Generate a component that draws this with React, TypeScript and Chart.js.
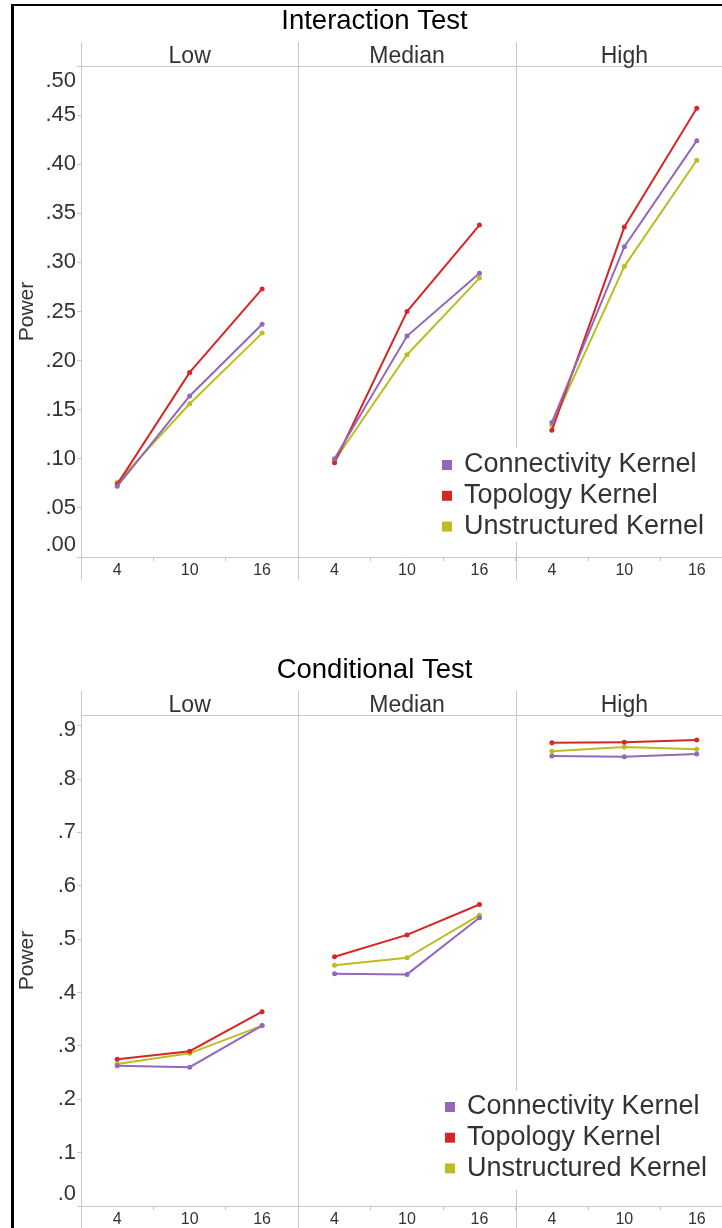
import React, { useEffect, useRef } from 'react';
import { Chart, registerables } from 'chart.js';

Chart.register(...registerables);

const FONT = '"Liberation Sans", Arial, Helvetica, sans-serif';
const GRID = '#c8c8c8';
const TEXT = '#333333';

const seriesNames = ['Connectivity Kernel', 'Topology Kernel', 'Unstructured Kernel'];
const seriesColors = ['#9467bd', '#d62728', '#bcbd22'];
const panelNames = ['Low', 'Median', 'High'];
const xLabels = ['4', '10', '16', '4', '10', '16', '4', '10', '16'];

// Interaction Test (Low 4,10,16 | Median 4,10,16 | High 4,10,16)
const interactionConnectivity = [0.072, 0.164, 0.237, 0.100, 0.225, 0.289, 0.137, 0.316, 0.424];
const interactionTopology = [0.074, 0.188, 0.273, 0.096, 0.250, 0.338, 0.129, 0.336, 0.457];
const interactionUnstructured = [0.076, 0.156, 0.228, 0.098, 0.206, 0.284, 0.134, 0.296, 0.404];

// Conditional Test
const conditionalConnectivity = [0.263, 0.260, 0.338, 0.435, 0.434, 0.540, 0.843, 0.842, 0.847];
const conditionalTopology = [0.275, 0.290, 0.364, 0.467, 0.508, 0.565, 0.868, 0.869, 0.873];
const conditionalUnstructured = [0.266, 0.286, 0.338, 0.451, 0.465, 0.545, 0.852, 0.860, 0.856];

const CANVAS_W = 750;
const CANVAS_H = 649;

function fmtTick(v: number, decimals: number) {
  return v.toFixed(decimals).replace(/^0/, '');
}

const facetPlugin = {
  id: 'facetDecor',
  beforeDatasetsDraw(chart: any, _args: any, opts: any) {
    const { ctx, chartArea } = chart;
    const xs = chart.scales.x;
    const ys = chart.scales.y;
    ctx.save();
    ctx.strokeStyle = GRID;
    ctx.lineWidth = 1;
    ctx.beginPath();
    const ty = Math.round(chartArea.top) + 0.5;
    ctx.moveTo(chartArea.left, ty);
    ctx.lineTo(chartArea.right, ty);
    [-0.5, 2.5, 5.5].forEach((v) => {
      const px = Math.round(xs.getPixelForValue(v)) + 0.5;
      ctx.moveTo(px, chartArea.top - 24);
      ctx.lineTo(px, chartArea.bottom + 23);
    });
    ctx.stroke();

    // facet headers
    ctx.fillStyle = TEXT;
    ctx.font = `23px ${FONT}`;
    ctx.textAlign = 'center';
    ctx.textBaseline = 'alphabetic';
    panelNames.forEach((n, i) => {
      ctx.fillText(n, xs.getPixelForValue(i * 3 + 1), chartArea.top - 3.5);
    });

    // y tick labels (kept inside the plot band)
    ctx.font = `22px ${FONT}`;
    ctx.textAlign = 'right';
    ctx.textBaseline = 'middle';
    ys.ticks.forEach((t: any) => {
      let py = ys.getPixelForValue(t.value);
      py = Math.min(Math.max(py, chartArea.top + 15), chartArea.bottom - 12);
      ctx.fillText(fmtTick(t.value, opts.decimals), ys.right - 5, py);
    });
    ctx.restore();
  },
  afterDraw(chart: any, _args: any, opts: any) {
    const { ctx } = chart;
    ctx.save();
    ctx.fillStyle = '#ffffff';
    ctx.fillRect(opts.boxX, opts.boxY, opts.boxW, opts.boxH);
    ctx.font = `27px ${FONT}`;
    ctx.textAlign = 'left';
    ctx.textBaseline = 'middle';
    chart.data.datasets.forEach((ds: any, i: number) => {
      const cy = opts.rowY + i * opts.rowGap;
      ctx.fillStyle = ds.borderColor;
      ctx.fillRect(opts.squareX, cy - 5, 10, 10);
      ctx.fillStyle = TEXT;
      ctx.fillText(ds.label, opts.textX, cy);
    });
    ctx.restore();
  },
};

function makeDataset(label: string, data: number[], color: string) {
  return {
    label,
    data,
    borderColor: color,
    backgroundColor: color,
    borderWidth: 2,
    pointRadius: 2.5,
    pointBorderWidth: 0,
    pointBackgroundColor: color,
    pointHoverRadius: 2.5,
    tension: 0,
    fill: false,
    segment: {
      borderColor: (c: any) => (c.p0DataIndex % 3 === 2 ? 'rgba(0,0,0,0)' : color),
    },
  };
}

function makeConfig(
  title: string,
  series: number[][],
  yMax: number,
  yStep: number,
  decimals: number,
  legend: any
): any {
  return {
    type: 'line',
    data: {
      labels: xLabels,
      datasets: series.map((d, i) => makeDataset(seriesNames[i], d, seriesColors[i])),
    },
    options: {
      responsive: false,
      animation: false,
      events: [],
      layout: { padding: { left: 16, right: 17, top: 0, bottom: 0 } },
      plugins: {
        legend: { display: false },
        tooltip: { enabled: false },
        title: {
          display: true,
          text: title,
          color: '#000000',
          font: { family: FONT, size: 27.5, weight: 'normal', lineHeight: 1.2 },
          padding: { top: 4.6, bottom: 28.4 },
        },
        facetDecor: { decimals, ...legend },
      },
      scales: {
        x: {
          type: 'category',
          offset: true,
          grid: {
            offset: true,
            drawOnChartArea: false,
            drawTicks: true,
            tickLength: 4,
            tickColor: GRID,
            color: GRID,
          },
          border: { display: true, color: GRID, width: 1 },
          ticks: {
            autoSkip: false,
            maxRotation: 0,
            minRotation: 0,
            padding: 0,
            color: TEXT,
            font: { family: FONT, size: 16 },
          },
          afterFit: (s: any) => {
            s.height = CANVAS_H - 557;
          },
        },
        y: {
          type: 'linear',
          min: 0,
          max: yMax,
          bounds: 'data',
          grid: {
            drawOnChartArea: false,
            drawTicks: true,
            tickLength: 4,
            tickColor: GRID,
            color: GRID,
          },
          border: { display: true, color: GRID, width: 1 },
          ticks: {
            display: false,
            stepSize: yStep,
            includeBounds: false,
          },
          title: {
            display: true,
            text: 'Power',
            color: TEXT,
            font: { family: FONT, size: 21, lineHeight: 1.0 },
            padding: { top: 0.5, bottom: 0 },
          },
          afterFit: (s: any) => {
            s.width = 65;
          },
        },
      },
    },
    plugins: [facetPlugin],
  };
}

export default function App() {
  const topRef = useRef<HTMLCanvasElement | null>(null);
  const bottomRef = useRef<HTMLCanvasElement | null>(null);

  useEffect(() => {
    const charts: Chart[] = [];
    if (topRef.current) {
      charts.push(
        new Chart(
          topRef.current,
          makeConfig(
            'Interaction Test',
            [interactionConnectivity, interactionTopology, interactionUnstructured],
            0.5,
            0.05,
            2,
            { boxX: 432, boxY: 448, boxW: 290, boxH: 94, squareX: 442, textX: 464, rowY: 465, rowGap: 30.8 }
          )
        )
      );
    }
    if (bottomRef.current) {
      charts.push(
        new Chart(
          bottomRef.current,
          makeConfig(
            'Conditional Test',
            [conditionalConnectivity, conditionalTopology, conditionalUnstructured],
            0.92,
            0.1,
            1,
            { boxX: 435, boxY: 442, boxW: 290, boxH: 99, squareX: 445, textX: 467, rowY: 458, rowGap: 30.7 }
          )
        )
      );
    }
    return () => charts.forEach((c) => c.destroy());
  }, []);

  return (
    <div
      style={{
        position: 'absolute',
        left: 0,
        top: 0,
        width: 722,
        height: 1228,
        overflow: 'hidden',
        background: '#ffffff',
      }}
    >
      <div
        style={{
          position: 'absolute',
          left: 11,
          top: 4,
          width: 900,
          height: 1400,
          borderLeft: '3px solid #000',
          borderTop: '2px solid #000',
          boxSizing: 'border-box',
        }}
      />
      <canvas
        ref={topRef}
        width={CANVAS_W}
        height={CANVAS_H}
        style={{ position: 'absolute', left: 0, top: 0, width: CANVAS_W, height: CANVAS_H, display: 'block' }}
      />
      <canvas
        ref={bottomRef}
        width={CANVAS_W}
        height={CANVAS_H}
        style={{ position: 'absolute', left: 0, top: 649, width: CANVAS_W, height: CANVAS_H, display: 'block' }}
      />
    </div>
  );
}
